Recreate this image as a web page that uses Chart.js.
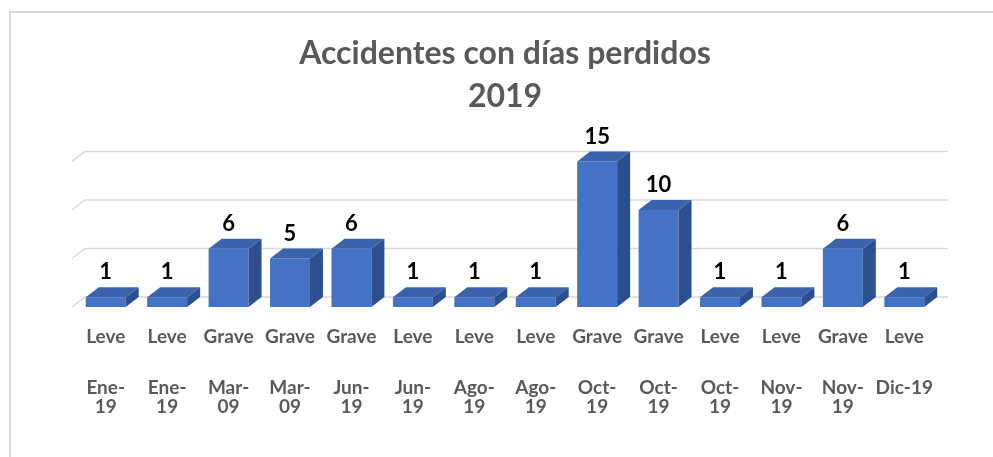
<!DOCTYPE html>
<html lang="es">
<head>
<meta charset="UTF-8" />
<title>Accidentes con días perdidos 2019</title>
<script src="https://cdn.jsdelivr.net/npm/chart.js@4.4.1/dist/chart.umd.min.js"></script>
<style>
  body { margin: 0; background: #fff; }
  #wrap { position: relative; width: 993px; height: 457px; }
  #frame { position: absolute; left: 9px; top: 11px; right: 0; bottom: 0; border-top: 2px solid #d9d9d9; border-left: 2px solid #d9d9d9; }
  canvas { position: absolute; left: 0; top: 0; }
</style>
</head>
<body>
<div id="wrap">
  <div id="frame"></div>
  <canvas id="chart" width="993" height="457"></canvas>
</div>
<script>
const severity = ["Leve", "Leve", "Grave", "Grave", "Grave", "Leve", "Leve", "Leve", "Grave", "Grave", "Leve", "Leve", "Grave", "Leve"];
const months = [["Ene-", "19"], ["Ene-", "19"], ["Mar-", "09"], ["Mar-", "09"], ["Jun-", "19"], ["Jun-", "19"], ["Ago-", "19"], ["Ago-", "19"], ["Oct-", "19"], ["Oct-", "19"], ["Oct-", "19"], ["Nov-", "19"], ["Nov-", "19"], ["Dic-19"]];
const accidents = [1, 1, 6, 5, 6, 1, 1, 1, 15, 10, 1, 1, 6, 1];
const gridValues = [0, 5, 10, 15];

// fake 3d: depth offset of the bars and the back wall
const DX = 13, DY = 10;
const frontColor = "#4472c4", topColor = "#3a62ad", sideColor = "#2d4f8e";

const bars3d = {
  id: "bars3d",
  beforeDatasetsDraw(chart) {
    const { ctx, chartArea, scales: { y } } = chart;
    ctx.save();
    ctx.strokeStyle = "#d9d9d9";
    ctx.lineWidth = 1.5;
    gridValues.forEach(v => {
      const py = y.getPixelForValue(v);
      ctx.beginPath();
      ctx.moveTo(chartArea.left - 3, py);
      ctx.lineTo(chartArea.left - 3 + DX, py - DY);
      ctx.lineTo(chartArea.right + DX, py - DY);
      ctx.stroke();
    });
    ctx.restore();
  },
  afterDatasetsDraw(chart) {
    const { ctx } = chart;
    const meta = chart.getDatasetMeta(0);
    ctx.save();
    meta.data.forEach((bar, i) => {
      const { x, y, base, width } = bar.getProps(["x", "y", "base", "width"], true);
      const l = x - width / 2, r = x + width / 2;
      ctx.fillStyle = topColor;
      ctx.beginPath();
      ctx.moveTo(l, y); ctx.lineTo(l + DX, y - DY); ctx.lineTo(r + DX, y - DY); ctx.lineTo(r, y);
      ctx.closePath(); ctx.fill();
      ctx.fillStyle = sideColor;
      ctx.beginPath();
      ctx.moveTo(r, y); ctx.lineTo(r + DX, y - DY); ctx.lineTo(r + DX, base - DY); ctx.lineTo(r, base);
      ctx.closePath(); ctx.fill();
      ctx.fillStyle = "#000";
      ctx.font = "bold 22px Lato";
      ctx.textAlign = "center";
      ctx.textBaseline = "middle";
      ctx.fillText(String(accidents[i]), x, y - DY - 15);
    });
    ctx.restore();
  }
};

const tickFont = { family: "Lato", size: 19, weight: "bold", lineHeight: 1.0 };

new Chart(document.getElementById("chart"), {
  type: "bar",
  data: {
    labels: months,
    datasets: [{
      data: accidents,
      backgroundColor: frontColor,
      barPercentage: 0.65,
      categoryPercentage: 1
    }]
  },
  options: {
    responsive: false,
    animation: false,
    layout: { padding: { left: 75, right: 58, top: 0, bottom: 29 } },
    plugins: {
      legend: { display: false },
      tooltip: { enabled: false },
      title: {
        display: true,
        text: ["Accidentes con días perdidos", "2019"],
        color: "#595959",
        font: { family: "Lato", size: 32, weight: "bold", lineHeight: 1.34 },
        padding: { top: 32, bottom: 34 }
      }
    },
    scales: {
      x: {
        weight: 1,
        grid: { display: false },
        border: { display: false },
        ticks: { color: "#595959", font: tickFont, padding: 12, maxRotation: 0, autoSkip: false }
      },
      sev: {
        type: "category",
        position: "bottom",
        labels: severity,
        weight: 0,
        grid: { display: false },
        border: { display: false },
        ticks: { color: "#595959", font: tickFont, padding: 12, maxRotation: 0, autoSkip: false }
      },
      y: { display: false, min: 0, max: 16 }
    }
  },
  plugins: [bars3d]
});
</script>
</body>
</html>
